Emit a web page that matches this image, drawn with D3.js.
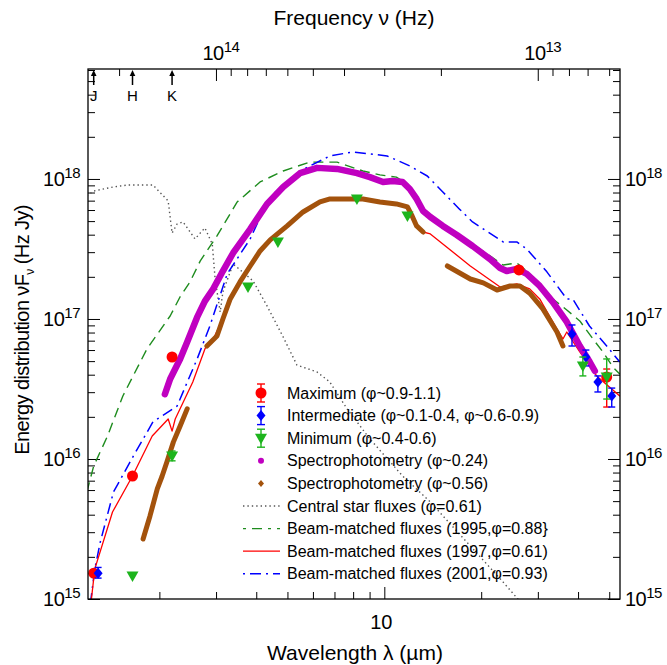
<!DOCTYPE html>
<html><head><meta charset="utf-8">
<script src="https://cdn.jsdelivr.net/npm/d3@7"></script>
<style>body{margin:0;background:#fff}svg text{font-family:"Liberation Sans",Arial,sans-serif;fill:#000}</style>
</head><body><svg id="c" width="667" height="665"></svg>
<script>
// ---------------- data ----------------
const lambdaDomain = [1.2, 54];          // µm
const fluxDomain = [1e15, 6.1e18];       // Hz Jy
const C_UM_HZ = 2.998e14;                // c in µm·Hz

const bottomMajorTicks = [10];
const bottomMinorTicks = [2,3,4,5,6,7,8,9,20,30,40,50];
const topMajorTicks = [1e14, 1e13];
const topMinorTicks = [2e14,9e13,8e13,7e13,6e13,5e13,4e13,3e13,2e13,9e12,8e12,7e12,6e12];
const yMajorTicks = [1e15,1e16,1e17,1e18];
const yMinorTicks = [2e15,3e15,4e15,5e15,6e15,7e15,8e15,9e15,2e16,3e16,4e16,5e16,6e16,7e16,8e16,9e16,
  2e17,3e17,4e17,5e17,6e17,7e17,8e17,9e17,2e18,3e18,4e18,5e18,6e18];
const bottomTickLabels = ["10"];
const topTickLabels = [["10","14"],["10","13"]];
const yTickLabels = [["10","15"],["10","16"],["10","17"],["10","18"]];

const bandNames = ["J","H","K"];
const bandLambda = [1.25,1.65,2.19];

// Spectrophotometry phi~0.24 [lambda µm, flux]
const specPhi024 = [[2.08,2.9e16],[2.16,3.73e16],[2.32,5.18e16],[2.44,6.85e16],[2.62,1.03e17],[2.77,1.34e17],
 [2.94,1.64e17],[3.15,2.2e17],[3.39,2.96e17],[3.83,4.39e17],[4.32,6.63e17],[4.85,8.77e17],[5.47,1.1e18],
 [6.18,1.2e18],[7.13,1.18e18],[8.22,1.1e18],[9.02,1.03e18],[9.91,9.52e17],[10.6,9.68e17],[11.4,9.52e17],
 [12.0,8.48e17],[12.6,7.2e17],[13.2,5.91e17],[13.9,5.35e17],[15.2,4.62e17],[16.8,3.98e17],[18.8,3.32e17],
 [21.3,2.68e17],[22.9,2.31e17],[24.0,2.2e17],[25.8,2.28e17],[27.7,2.1e17],[30.4,1.72e17],[33.4,1.32e17],
 [36.9,9.52e16],[40.5,6.41e16],[43.5,4.93e16],[45.1,4.25e16]];

// Spectrophotometry phi~0.56 (three segments)
const specPhi056a = [[1.78,2.68e15],[1.87,3.92e15],[1.97,6.11e15],[2.04,7.56e15],[2.11,9.52e15],[2.21,1.32e16],
 [2.32,1.72e16],[2.44,2.28e16]];
const specPhi056b = [[2.81,6.41e16],[3.02,7.56e16],[3.15,1.0e17],[3.32,1.39e17],[3.56,1.84e17],[3.83,2.39e17],
 [4.11,3.06e17],[4.42,3.67e17],[4.99,4.62e17],[5.59,5.81e17],[6.31,6.85e17],[6.78,7.2e17],[7.66,7.2e17],
 [8.58,7.2e17],[9.69,6.85e17],[10.9,6.63e17],[11.8,6.31e17],[12.2,5.44e17],[12.6,4.62e17],[13.2,4.18e17]];
const specPhi056c = [[15.7,2.39e17],[18.5,1.93e17],[20.3,1.81e17],[22.4,1.61e17],[24.6,1.72e17],[26.4,1.72e17],
 [28.3,1.53e17],[31.1,1.18e17],[34.4,8.07e16],[35.9,6.41e16]];

// Central star fluxes (phi=0.61)
const centralStar = [[1.19,7.56e17],[1.25,8.2e17],[1.44,8.77e17],[1.60,9.06e17],[1.91,9.06e17],[2.13,6.96e17],
 [2.19,4.11e17],[2.27,4.77e17],[2.37,4.93e17],[2.58,3.73e17],[2.77,4.47e17],[2.92,3.43e17],[2.98,1.93e17],
 [3.09,1.12e17],[3.15,1.56e17],[3.39,2.47e17],[3.91,1.87e17],[4.32,1.24e17],[4.85,7.43e16],[5.35,4.69e16],
 [6.18,4.18e16],[6.77,3.55e16],[7.66,2.28e16],[9.02,1.39e16],[11.4,7.56e15],[13.9,4.93e15],[18.5,2.39e15],
 [23.4,1.32e15],[26.3,9.7e14]];

// Beam-matched fluxes
const beam1995 = [[1.19,5.81e15],[1.25,8.91e15],[1.38,1.46e16],[1.54,2.82e16],[1.83,6.11e16],[2.16,1.05e17],
 [2.32,1.44e17],[2.49,1.84e17],[2.68,2.6e17],[3.02,3.92e17],[3.49,6.85e17],[4.11,9.52e17],[4.85,1.14e18],
 [5.87,1.32e18],[7.13,1.32e18],[8.58,1.14e18],[9.69,1.07e18],[10.9,1.03e18],[11.8,9.21e17],[12.6,7.43e17],
 [13.2,6.11e17],[13.9,5.53e17],[15.2,4.77e17],[16.8,4.11e17],[18.8,3.43e17],[21.3,2.82e17],[23.4,2.43e17],
 [25.8,2.51e17],[27.7,2.2e17],[30.4,1.78e17],[33.4,1.39e17],[36.9,1.16e17],[40.5,9.68e16],[44.5,7.2e16],
 [47.8,5.81e16],[51.3,4.54e16],[53.9,4.05e16]];
const beam1997 = [[1.22,8.5e14],[1.26,1.64e15],[1.43,4.18e15],[1.65,7.56e15],[1.90,1.46e16],[2.13,1.93e16],
 [2.19,1.58e16],[2.24,1.93e16],[2.54,3.55e16],[2.77,6.11e16],[2.83,6.63e16],[2.94,7.2e16],[3.15,1.0e17],
 [3.32,1.39e17],[3.56,1.84e17],[3.83,2.39e17],[4.11,3.06e17],[4.42,3.67e17],[4.99,4.62e17],[5.59,5.81e17],
 [6.31,6.85e17],[6.78,7.2e17],[7.66,7.2e17],[8.58,7.2e17],[9.69,6.85e17],[10.9,6.63e17],[11.8,6.2e17],
 [12.2,5.44e17],[12.6,4.62e17],[13.2,4.18e17],[13.9,4.05e17],[18.5,2.39e17],[22.9,1.69e17],[25.8,1.78e17],
 [28.3,1.64e17],[30.4,1.39e17],[34.4,8.48e16],[35.9,7.2e16],[36.9,8.07e16],[40.5,5.81e16],[45.7,3.92e16],
 [53.9,2.82e16]];
const beam2001 = [[1.22,9.2e14],[1.26,1.64e15],[1.31,2.55e15],[1.44,5.81e15],[1.66,1.05e16],[1.91,1.84e16],
 [2.27,2.39e16],[2.62,5.18e16],[2.87,8.91e16],[3.25,2.1e17],[3.83,3.73e17],[4.20,5.91e17],[4.51,7.81e17],
 [5.47,1.14e18],[6.77,1.46e18],[7.99,1.56e18],[10.2,1.46e18],[12.0,1.24e18],[13.6,1.05e18],[15.2,8.07e17],
 [17.1,6.11e17],[18.8,4.93e17],[23.4,3.55e17],[25.8,3.55e17],[27.7,3.16e17],[32.0,2.17e17],[36.9,1.39e17],
 [38.5,1.39e17],[43.4,8.91e16],[49.1,6.41e16],[53.9,4.93e16]];

// Photometry [lambda, flux, errLow, errHigh]
const photMaximum = [[1.25,1.53e15,null,null],[1.65,7.56e15,null,null],[2.19,5.35e16,null,null],
 [26.2,2.24e17,null,null],[49.1,3.85e16,2.35e16,4.39e16]];
const photIntermediate = [[1.29,1.53e15,1.41e15,1.68e15],[38.3,7.81e16,6.41e16,9.06e16],[42.3,5.35e16,4.62e16,6.0e16],
 [46.1,3.55e16,3.01e16,3.92e16],[50.9,2.82e16,2.35e16,3.21e16]];
const photMinimum = [[1.65,1.46e15,null,null],[2.19,1.05e16,9.7e15,1.14e16],[3.77,1.69e17,null,null],
 [4.67,3.55e17,null,null],[8.22,7.2e17,null,null],[11.8,5.44e17,null,null],
 [41.4,4.62e16,3.92e16,5.35e16],[49.1,3.85e16,2.68e16,5.18e16]];

const legendLabels = ["Maximum (φ~0.9-1.1)","Intermediate (φ~0.1-0.4, φ~0.6-0.9)","Minimum (φ~0.4-0.6)",
 "Spectrophotometry (φ~0.24)","Spectrophotometry (φ~0.56)","Central star fluxes (φ=0.61)",
 "Beam-matched fluxes (1995,φ=0.88}","Beam-matched fluxes (1997,φ=0.61)","Beam-matched fluxes (2001,φ=0.93)"];

// ---------------- drawing ----------------
const svg = d3.select("#c");
const M = {l:88, r:620, t:69, b:599};
const x = d3.scaleLog().domain(lambdaDomain).range([M.l, M.r]);
const y = d3.scaleLog().domain(fluxDomain).range([M.b, M.t]);
const xf = d3.scaleLog().domain([C_UM_HZ/lambdaDomain[0], C_UM_HZ/lambdaDomain[1]]).range([M.l, M.r]);

const COL = {red:"#ff0000", blue:"#0000ff", green:"#1db41d", dgreen:"#1e8c1e", mag:"#c000c0", brown:"#a3520c", grey:"#555"};

svg.append("defs").append("clipPath").attr("id","clip").append("rect")
  .attr("x",M.l).attr("y",M.t).attr("width",M.r-M.l).attr("height",M.b-M.t);

// ticks
function tickG(axis, tr){
  const g = svg.append("g").attr("transform",tr).call(axis);
  g.select(".domain").remove();
  g.selectAll("line").attr("stroke","#000").attr("stroke-width",1);
}
const MJ=12, MN=7;
tickG(d3.axisBottom(x).tickValues(bottomMajorTicks).tickSize(-MJ).tickFormat(""), `translate(0,${M.b})`);
tickG(d3.axisBottom(x).tickValues(bottomMinorTicks).tickSize(-MN).tickFormat(""), `translate(0,${M.b})`);
tickG(d3.axisTop(xf).tickValues(topMajorTicks).tickSize(-MJ).tickFormat(""), `translate(0,${M.t})`);
tickG(d3.axisTop(xf).tickValues(topMinorTicks).tickSize(-MN).tickFormat(""), `translate(0,${M.t})`);
tickG(d3.axisLeft(y).tickValues(yMajorTicks).tickSize(-MJ).tickFormat(""), `translate(${M.l},0)`);
tickG(d3.axisLeft(y).tickValues(yMinorTicks).tickSize(-MN).tickFormat(""), `translate(${M.l},0)`);
tickG(d3.axisRight(y).tickValues(yMajorTicks).tickSize(-MJ).tickFormat(""), `translate(${M.r},0)`);
tickG(d3.axisRight(y).tickValues(yMinorTicks).tickSize(-MN).tickFormat(""), `translate(${M.r},0)`);

// tick labels
const FS = 20, SFS = 15;
function powLabel(px, py, parts, anchor){
  const t = svg.append("text").attr("x",px).attr("y",py).attr("text-anchor",anchor).attr("font-size",FS).attr("letter-spacing",-0.5);
  t.append("tspan").text(parts[0]);
  t.append("tspan").attr("font-size",SFS).attr("dy",-8).text(parts[1]);
  return t;
}
topMajorTicks.forEach((v,i)=>powLabel(xf(v)+5, 60, topTickLabels[i], "middle"));
yMajorTicks.forEach((v,i)=>{
  powLabel(M.l-8, y(v)+7, yTickLabels[i], "end");
  powLabel(M.r+5, y(v)+7, yTickLabels[i], "start");
});
bottomMajorTicks.forEach((v,i)=>svg.append("text").attr("x",x(v)-3).attr("y",629).attr("text-anchor","middle")
  .attr("font-size",FS).text(bottomTickLabels[i]));

// titles
svg.append("text").attr("x",354).attr("y",25).attr("text-anchor","middle").attr("font-size",21).text("Frequency  ν  (Hz)");
svg.append("text").attr("x",355).attr("y",660).attr("text-anchor","middle").attr("font-size",21).text("Wavelength  λ  (µm)");
const yt = svg.append("text").attr("transform","translate(29,330) rotate(-90)").attr("text-anchor","middle")
  .attr("font-size",20).attr("letter-spacing",-0.6);
yt.append("tspan").text("Energy distribution  νF");
yt.append("tspan").attr("font-size",12).attr("dy",5).text("ν");
yt.append("tspan").attr("dy",-5).text(" (Hz Jy)");

// J H K markers
bandLambda.forEach((l,i)=>{
  const px = x(l);
  svg.append("line").attr("x1",px).attr("x2",px).attr("y1",M.t+16).attr("y2",M.t+5).attr("stroke","#000").attr("stroke-width",1.5);
  svg.append("path").attr("d",`M${px-2.8},${M.t+7}L${px},${M.t+1}L${px+2.8},${M.t+7}Z`).attr("fill","#000");
  svg.append("text").attr("x",px).attr("y",M.t+32).attr("text-anchor","middle").attr("font-size",15).text(bandNames[i]);
});

// curves
const plot = svg.append("g").attr("clip-path","url(#clip)");
const line = d3.line().x(d=>x(d[0])).y(d=>y(d[1]));
function curve(data, color, w, dash){
  plot.append("path").attr("d",line(data)).attr("fill","none").attr("stroke",color).attr("stroke-width",w)
    .attr("stroke-dasharray",dash||null).attr("stroke-linejoin","round").attr("stroke-linecap", dash?"butt":"round");
}
curve(centralStar, COL.grey, 1.4, "1.4,3");
curve(beam1995, COL.dgreen, 1.4, "10,6");
curve(beam2001, COL.blue, 1.5, "11,5,2,5");
curve(beam1997, COL.red, 1.3, null);
curve(specPhi024, COL.mag, 6.5, null);
curve(specPhi056a, COL.brown, 5, null);
curve(specPhi056b, COL.brown, 5, null);
curve(specPhi056c, COL.brown, 5, null);

// markers
const circleP = "M5.5,0A5.5,5.5 0 1,1 -5.5,0A5.5,5.5 0 1,1 5.5,0Z";
const diamondP = "M0,-5.5L4.5,0L0,5.5L-4.5,0Z";
const triP = "M-6,-4.5L6,-4.5L0,6Z";
function markers(data, shape, color){
  data.forEach(d=>{
    const px = x(d[0]), py = y(d[1]);
    if(d[2]!=null){
      const y1 = y(d[2]), y2 = y(d[3]);
      plot.append("line").attr("x1",px).attr("x2",px).attr("y1",y1).attr("y2",y2).attr("stroke",color).attr("stroke-width",1.4);
      [y1,y2].forEach(yy=>plot.append("line").attr("x1",px-3.5).attr("x2",px+3.5).attr("y1",yy).attr("y2",yy).attr("stroke",color).attr("stroke-width",1.4));
    }
    plot.append("path").attr("d",shape).attr("transform",`translate(${px},${py})`).attr("fill",color);
  });
}
markers(photMaximum, circleP, COL.red);
markers(photIntermediate, diamondP, COL.blue);
markers(photMinimum, triP, COL.green);

// frame
svg.append("rect").attr("x",M.l).attr("y",M.t).attr("width",M.r-M.l).attr("height",M.b-M.t)
  .attr("fill","none").attr("stroke","#000").attr("stroke-width",1.3);

// legend
const LX = 261, LT = 393, LS = 22.6;
const lg = svg.append("g");
legendLabels.forEach((lab,i)=>{
  const cy = LT + i*LS;
  lg.append("text").attr("x",287).attr("y",cy+5.5).attr("font-size",16).text(lab);
  if(i<3){
    const col = [COL.red,COL.blue,COL.green][i];
    const shp = [circleP,diamondP,triP][i];
    lg.append("line").attr("x1",LX).attr("x2",LX).attr("y1",cy-9).attr("y2",cy+9).attr("stroke",col).attr("stroke-width",1.4);
    [cy-9,cy+9].forEach(yy=>lg.append("line").attr("x1",LX-4).attr("x2",LX+4).attr("y1",yy).attr("y2",yy).attr("stroke",col).attr("stroke-width",1.4));
    lg.append("path").attr("d",shp).attr("transform",`translate(${LX},${cy})`).attr("fill",col);
  } else if(i===3){
    lg.append("circle").attr("cx",LX).attr("cy",cy).attr("r",3).attr("fill",COL.mag);
  } else if(i===4){
    lg.append("path").attr("d","M0,-3.5L3,0L0,3.5L-3,0Z").attr("transform",`translate(${LX},${cy})`).attr("fill",COL.brown);
  } else {
    const st = [[COL.grey,"1.4,3",1.4],[COL.dgreen,"3,6,10,6",1.4],[COL.red,null,1.3],[COL.blue,"2,5,11,5",1.5]][i-5];
    lg.append("line").attr("x1",243).attr("x2",280).attr("y1",cy).attr("y2",cy).attr("stroke",st[0])
      .attr("stroke-width",st[2]).attr("stroke-dasharray",st[1]);
  }
});
</script></body></html>
